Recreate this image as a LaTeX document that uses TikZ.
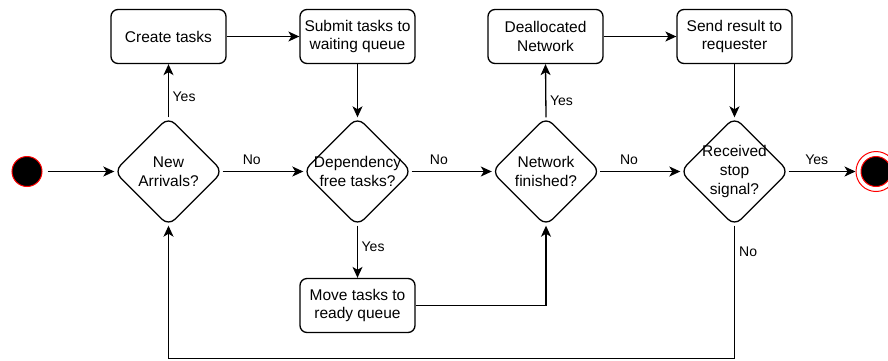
\documentclass[tikz,border=0pt]{standalone}
\usepackage{fontspec}
\setmainfont{Liberation Sans}
\usetikzlibrary{arrows.meta}
\begin{document}
\begin{tikzpicture}[x=1pt,y=-1pt,
  every node/.style={font=\fontsize{15.5}{18.6}\selectfont, text=black},
  box/.style={draw, line width=1.3pt, rounded corners=7pt, minimum width=115pt, minimum height=54pt, inner sep=0pt, align=center},
  decision/.style={minimum width=108pt, minimum height=108pt, inner sep=0pt, align=center},
  diam/.style={draw, line width=1.3pt, rounded corners=9pt},
  lbl/.style={font=\fontsize{14}{16}\selectfont, inner sep=0pt},
  flow/.style={line width=1.3pt, -{Stealth[length=11pt,width=10pt,inset=3pt]}},
  startnode/.style={circle, fill=black, draw=red, line width=1pt, minimum size=30pt, inner sep=0pt},
  endouter/.style={circle, fill=white, draw=red, line width=1pt, minimum size=40pt, inner sep=0pt},
  endinner/.style={circle, fill=black, draw=red, line width=1pt, minimum size=30pt, inner sep=0pt}
]
\useasboundingbox (0,0) rectangle (888,360);

% start / end
\node[startnode] (s) at (27,171.5) {};
\node[endouter] (e) at (876,171.5) {};
\node[endinner] (ei) at (876,171.5) {};

% decisions
\node[decision] (d1) at (168.5,171.5) {New\\Arrivals?};
\node[decision] (d2) at (357.5,171.5) {Dependency\\free tasks?};
\node[decision] (d3) at (546,171.5) {Network\\finished?};
\node[decision] (d4) at (734.5,171.5) {Received\\stop\\signal?};
\foreach \n in {d1,d2,d3,d4}
  \draw[diam] (\n.north) -- (\n.east) -- (\n.south) -- (\n.west) -- cycle;

% boxes
\node[box] (b1) at (168.5,36.5) {Create tasks};
\node[box] (b2) at (357.5,36.5) {Submit tasks to\\waiting queue};
\node[box] (b3) at (545.5,36.5) {Deallocated\\Network};
\node[box] (b4) at (734.5,36.5) {Send result to\\requester};
\node[box] (b5) at (357.5,305.5) {Move tasks to\\ready queue};

\coordinate (c1) at (734.5,358.3);
\coordinate (c2) at (168.5,358.3);

% connectors
\draw[flow, shorten <=5pt] (s) -- (d1.west);
\draw[flow] (d1.north) -- node[lbl, pos=0.39, anchor=west, xshift=3.5pt] {Yes} (b1.south);
\draw[flow] (d1.east) -- node[lbl, pos=0.36, anchor=south, yshift=6pt] {No} (d2.west);
\draw[flow] (b1.east) -- (b2.west);
\draw[flow] (b2.south) -- (d2.north);
\draw[flow] (d2.south) -- node[lbl, pos=0.41, anchor=west, xshift=3.5pt] {Yes} (b5.north);
\draw[flow] (d2.east) -- node[lbl, pos=0.34, anchor=south, yshift=6pt] {No} (d3.west);
\draw[flow] (b5.east) -| (d3.south);
\draw[flow] (d3.north) -- node[lbl, pos=0.31, anchor=west, xshift=3.5pt] {Yes} (b3.south);
\draw[flow] (b3.east) -- (b4.west);
\draw[flow] (b4.south) -- (d4.north);
\draw[flow] (d3.east) -- node[lbl, pos=0.36, anchor=south, yshift=6pt] {No} (d4.west);
\draw[flow] (d4.east) -- node[lbl, pos=0.42, anchor=south, yshift=6pt] {Yes} (e.west);
\draw[flow] (d4.south) -- node[lbl, pos=0.2, anchor=west, xshift=4pt] {No} (c1) -- (c2) -- (d1.south);
\end{tikzpicture}
\end{document}
